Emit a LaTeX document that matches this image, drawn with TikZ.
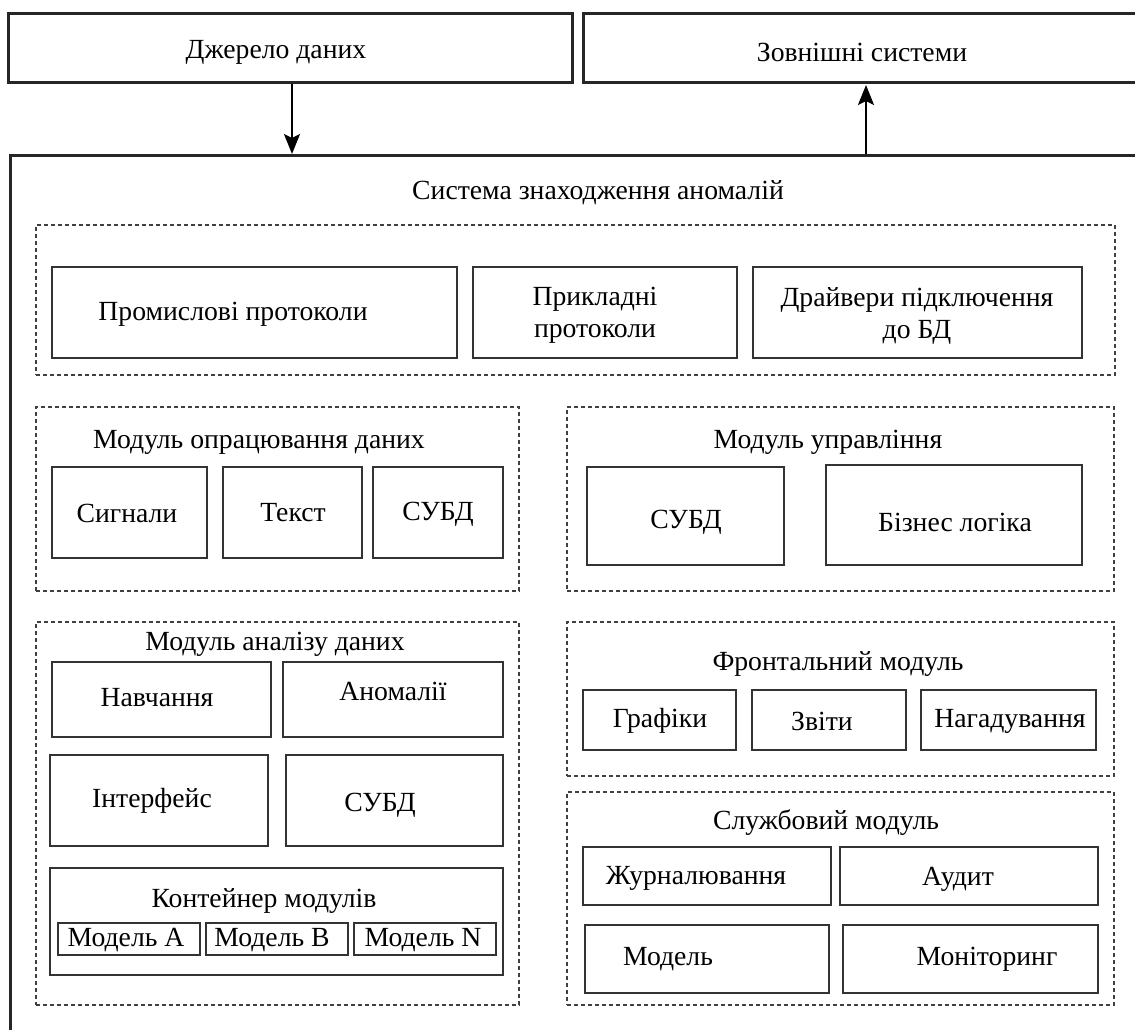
\documentclass[tikz,border=0pt]{standalone}
\usepackage{fontspec}
\setmainfont{Liberation Serif}
\usetikzlibrary{fit,arrows.meta}
\tikzset{
  thickbox/.style={draw=black!85, line width=3pt, inner sep=0pt},
  solidbox/.style={draw=black!80, line width=1.8pt, inner sep=0pt},
  dashbox/.style={draw=black!75, line width=1.3pt, dash pattern=on 4pt off 3pt, inner sep=0pt},
  txt/.style={inner sep=0pt, align=center, font=\fontsize{27.7}{32}\selectfont},
  arr/.style={line width=2.3pt, -{Stealth[length=20pt,width=16pt,inset=4pt]}},
}
\newcommand\bx[9]{\node[#1, fit={(#3,#4) (#5,#6)}] (#2) {}; \node[txt] (#2-t) at (#7,#8) {#9};}
\begin{document}
\begin{tikzpicture}[x=1pt,y=-1pt]
\useasboundingbox (0,0) rectangle (1135,1029);
% top boxes
\bx{thickbox}{src}{8}{13}{572}{82}{276}{52}{Джерело даних}
\bx{thickbox}{ext}{583}{13}{1150}{82}{862}{52}{Зовнішні системи}
% outer frame
\coordinate (ofl) at (10,1045);
\coordinate (otl) at (10,155);
\coordinate (otr) at (1150,155);
\draw[draw=black!85, line width=3pt] (ofl) -- (otl) -- (otr);
\coordinate (a1) at (292,154);
\coordinate (a2) at (866,154);
\draw[arr] (src.south -| a1) -- (a1);
\draw[arr] (a2) -- ([yshift=-1.5pt]ext.south -| a2);
\node[txt] (sys) at (598,193) {Система знаходження аномалій};
% protocols
\node[dashbox, fit={(36,225) (1115,375)}] (d1) {};
\bx{solidbox}{prom}{52}{267}{457}{358}{233}{314}{Промислові протоколи}
\bx{solidbox}{prikl}{473}{267}{737}{358}{595}{315}{Прикладні\\протоколи}
\bx{solidbox}{drv}{753}{267}{1082}{358}{917}{316}{Драйвери підключення\\до БД}
% processing
\bx{dashbox}{d2}{36}{407}{519}{591}{259}{442}{Модуль опрацювання даних}
\bx{solidbox}{sig}{52}{467}{207}{558}{127}{513}{Сигнали}
\bx{solidbox}{tekst}{223}{467}{362}{558}{293}{513}{Текст}
\bx{solidbox}{subda}{373}{467}{503}{558}{438}{514}{СУБД}
% control
\bx{dashbox}{d3}{567}{407}{1114}{591}{828}{442}{Модуль управління}
\bx{solidbox}{subdb}{587}{467}{784}{565}{686}{522}{СУБД}
\bx{solidbox}{biz}{826}{465}{1082}{565}{955}{522}{Бізнес логіка}
% analysis
\bx{dashbox}{d4}{36}{622}{519}{1005}{275}{644}{Модуль аналізу даних}
\bx{solidbox}{navch}{52}{662}{271}{737}{157}{698}{Навчання}
\bx{solidbox}{anom}{283}{662}{503}{737}{393}{691}{Аномалії}
\bx{solidbox}{intf}{50}{755}{268}{846}{152}{801}{Інтерфейс}
\bx{solidbox}{subdc}{286}{755}{503}{846}{380}{805}{СУБД}
\bx{solidbox}{cont}{50}{868}{503}{975}{264}{901}{Контейнер модулів}
\bx{solidbox}{ma}{58}{923}{200}{955}{126}{940}{Модель A}
\bx{solidbox}{mb}{206}{923}{348}{955}{272}{940}{Модель B}
\bx{solidbox}{mn}{354}{923}{496}{955}{423}{940}{Модель N}
% frontend
\bx{dashbox}{d5}{567}{622}{1114}{776}{838}{664}{Фронтальний модуль}
\bx{solidbox}{graf}{583}{690}{736}{750}{660}{721}{Графіки}
\bx{solidbox}{zvit}{752}{690}{906}{750}{822}{721}{Звіти}
\bx{solidbox}{nag}{921}{690}{1096}{750}{1010}{721}{Нагадування}
% service
\bx{dashbox}{d6}{567}{792}{1114}{1005}{826}{823}{Службовий модуль}
\bx{solidbox}{jur}{583}{847}{831}{905}{696}{878}{Журналювання}
\bx{solidbox}{aud}{840}{847}{1098}{905}{958}{879}{Аудит}
\bx{solidbox}{modl}{585}{925}{829}{993}{668}{959}{Модель}
\bx{solidbox}{mon}{843}{925}{1098}{993}{987}{959}{Моніторинг}
\end{tikzpicture}
\end{document}
